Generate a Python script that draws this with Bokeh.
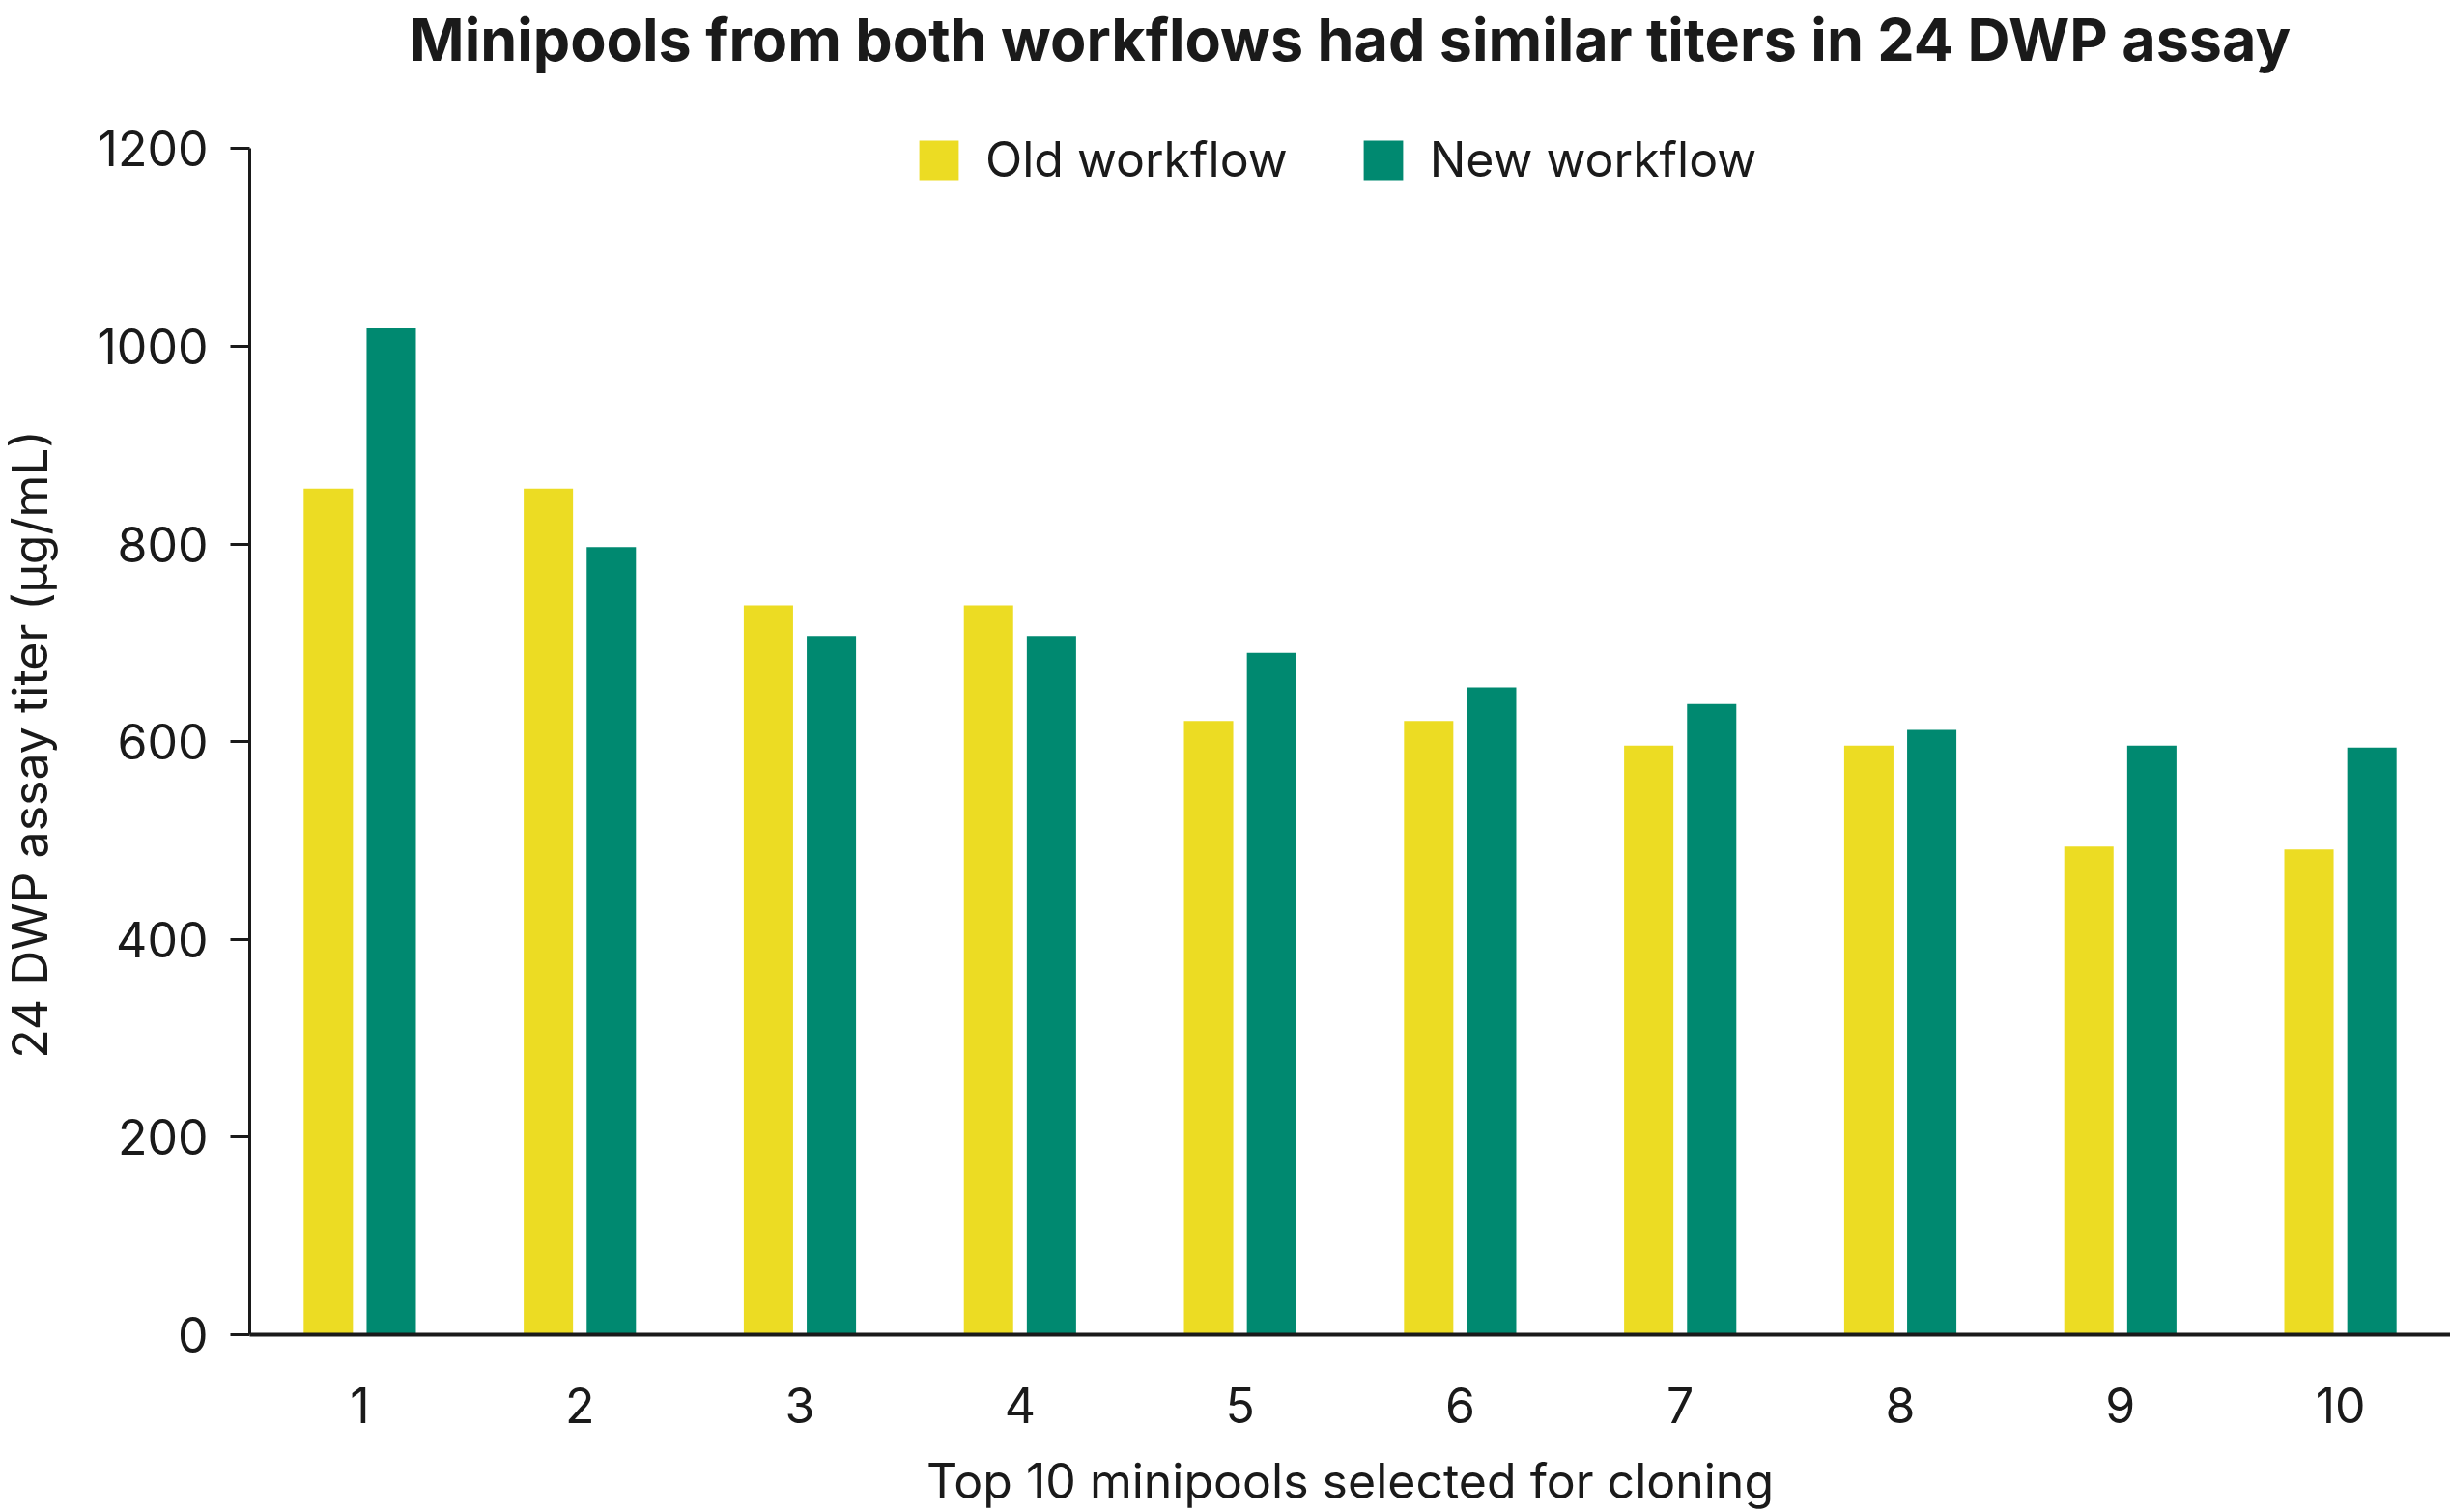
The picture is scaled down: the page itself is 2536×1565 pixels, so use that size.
from bokeh.plotting import figure
from bokeh.models import ColumnDataSource, FactorRange, Range1d, Label
from bokeh.layouts import row
from bokeh.transform import dodge
from bokeh.embed import file_html
from bokeh.resources import INLINE
import math

minipools = ["1", "2", "3", "4", "5", "6", "7", "8", "9", "10"]
old_workflow = [856, 856, 738, 738, 621, 621, 596, 596, 494, 491]
new_workflow = [1018, 797, 707, 707, 690, 655, 638, 612, 596, 594]
y_ticks = [0, 200, 400, 600, 800, 1000, 1200]
title_text = "Minipools from both workflows had similar titers in 24 DWP assay"
y_title = "24 DWP assay titer (µg/mL)"
x_title = "Top 10 minipools selected for cloning"

FONT = "Inter"
TXT = "#1a1a1a"
YELLOW = "#ECDC23"
GREEN = "#008970"

H = 1565
YLAB_W = 70

# narrow strip holding the rotated y-axis title (its frame is aligned with the main frame)
ylab = figure(width=YLAB_W, height=H, output_backend="svg", toolbar_location=None,
              x_range=Range1d(0, 1), y_range=Range1d(0, 1),
              x_axis_location=None, y_axis_location=None,
              min_border_left=0, min_border_right=0, min_border_top=0, min_border_bottom=0)
ylab.outline_line_color = None
ylab.xgrid.grid_line_color = None
ylab.ygrid.grid_line_color = None
ylab.add_layout(Label(x=30, y=611, x_units="screen", y_units="screen",
                      text=y_title, angle=math.pi / 2, text_align="center",
                      text_baseline="middle", text_font=FONT, text_font_size="50px",
                      text_color=TXT))

src = ColumnDataSource(dict(x=minipools, old=old_workflow, new=new_workflow))

p = figure(width=2536 - YLAB_W, height=H, output_backend="svg", toolbar_location=None,
           x_range=FactorRange(*minipools, range_padding=0),
           y_range=Range1d(0, 1350),
           min_border_left=258 - YLAB_W, min_border_right=0, min_border_bottom=183, min_border_top=0)

p.vbar(x=dodge("x", -0.143, range=p.x_range), top="old", width=0.224, source=src,
       color=YELLOW, line_color=None, legend_label="Old workflow")
p.vbar(x=dodge("x", 0.143, range=p.x_range), top="new", width=0.224, source=src,
       color=GREEN, line_color=None, legend_label="New workflow")

# chart title, placed in screen units inside the (tall) frame
p.add_layout(Label(x=1139, y=1341, x_units="screen", y_units="screen",
                   text=title_text, text_align="center", text_baseline="alphabetic",
                   text_font=FONT, text_font_size="61px", text_font_style="bold",
                   text_color=TXT))

p.outline_line_color = None
p.xgrid.grid_line_color = None
p.ygrid.grid_line_color = None

# y axis
ya = p.yaxis[0]
ya.bounds = (0, 1200)
ya.ticker = y_ticks
ya.axis_line_width = 3
ya.axis_line_color = TXT
ya.major_tick_line_width = 3
ya.major_tick_line_color = TXT
ya.major_tick_out = 20
ya.major_tick_in = 0
ya.minor_tick_line_color = None
ya.major_label_standoff = 23
ya.major_label_text_font = FONT
ya.major_label_text_font_size = "50px"
ya.major_label_text_color = TXT

# x axis
xa = p.xaxis[0]
xa.axis_line_width = 4
xa.axis_line_color = TXT
xa.major_tick_line_color = None
xa.major_tick_out = 0
xa.major_tick_in = 0
xa.minor_tick_line_color = None
xa.major_label_standoff = 54
xa.major_label_text_font = FONT
xa.major_label_text_font_size = "50px"
xa.major_label_text_color = TXT
xa.axis_label = x_title
xa.axis_label_text_font = FONT
xa.axis_label_text_font_size = "50px"
xa.axis_label_text_font_style = "normal"
xa.axis_label_text_color = TXT
xa.axis_label_standoff = 27

lg = p.legend[0]
lg.location = (688, 1186)
lg.orientation = "horizontal"
lg.border_line_color = None
lg.background_fill_alpha = 0
lg.padding = 0
lg.margin = 0
lg.glyph_width = 51
lg.glyph_height = 51
lg.label_standoff = 23
lg.spacing = 73
lg.label_text_font = FONT
lg.label_text_font_size = "50px"
lg.label_text_color = TXT
lg.label_height = 51

layout = row(ylab, p, spacing=0)
open("out.html", "w").write(file_html(layout, INLINE))
